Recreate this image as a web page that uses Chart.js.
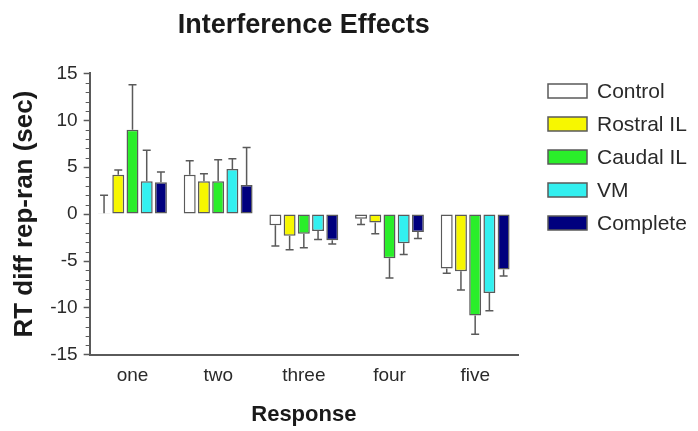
<!DOCTYPE html>
<html>
<head>
<meta charset="utf-8">
<script src="https://cdn.jsdelivr.net/npm/chart.js@4/dist/chart.umd.min.js"></script>
<style>
  body { margin: 0; background: #fff; }
  canvas { display: block; }
</style>
</head>
<body>
<canvas id="chart" width="698" height="431"></canvas>
<script>
const categories = ['one', 'two', 'three', 'four', 'five'];
const seriesNames = ['Control', 'Rostral IL', 'Caudal IL', 'VM', 'Complete'];

const control = [0.1, 4.2, -1.2, -0.5, -5.8];
const controlErr = [1.9, 1.5, 2.2, 0.6, 0.5];
const rostral = [4.2, 3.5, -2.3, -0.9, -6.1];
const rostralErr = [0.5, 0.8, 1.5, 1.2, 2.0];
const caudal = [9.0, 3.5, -2.1, -4.7, -10.8];
const caudalErr = [4.8, 2.3, 1.5, 2.1, 2.0];
const vm = [3.5, 4.8, -1.8, -3.1, -8.4];
const vmErr = [3.3, 1.1, 0.9, 1.2, 1.9];
const complete = [3.4, 3.1, -2.8, -1.9, -5.9];
const completeErr = [1.1, 4.0, 0.4, 0.7, 0.7];

const fills = ['#ffffff', '#f7f700', '#2aee2a', '#33f0f0', '#00007e'];
const lineGray = '#5a5a5a';
const font = 'Liberation Sans, Arial, sans-serif';

function makeSet(i, values, errs) {
    return {
        label: seriesNames[i],
        data: values,
        errors: errs,
        backgroundColor: fills[i],
        borderColor: lineGray,
        borderWidth: 1.5,
        borderSkipped: false,
        barPercentage: 0.84,
        categoryPercentage: 0.83
    };
}

// error bars drawn away from the baseline, like the original plot
const errorBars = {
    id: 'errorBars',
    afterDatasetsDraw(chart) {
        const ctx = chart.ctx;
        const y = chart.scales.y;
        chart.data.datasets.forEach((ds, i) => {
            chart.getDatasetMeta(i).data.forEach((bar, j) => {
                const v = ds.data[j];
                const e = ds.errors[j];
                const end = y.getPixelForValue(v >= 0 ? v + e : v - e);
                ctx.save();
                ctx.strokeStyle = lineGray;
                ctx.lineWidth = 1.5;
                ctx.beginPath();
                ctx.moveTo(bar.x, bar.y);
                ctx.lineTo(bar.x, end);
                ctx.moveTo(bar.x - 4, end);
                ctx.lineTo(bar.x + 4, end);
                ctx.stroke();
                ctx.restore();
            });
        });
    }
};

// minor ticks every 1 unit on the y axis
const minorTicks = {
    id: 'minorTicks',
    afterDraw(chart) {
        const ctx = chart.ctx;
        const y = chart.scales.y;
        const x0 = chart.chartArea.left;
        ctx.save();
        ctx.strokeStyle = lineGray;
        ctx.lineWidth = 1;
        for (let v = y.min; v <= y.max; v++) {
            if (v % 5 === 0) continue;
            const py = Math.round(y.getPixelForValue(v)) + 0.5;
            ctx.beginPath();
            ctx.moveTo(x0 - 4, py);
            ctx.lineTo(x0, py);
            ctx.stroke();
        }
        ctx.restore();
    }
};

// legend at the right, boxes drawn like the bars
const sideLegend = {
    id: 'sideLegend',
    afterDraw(chart) {
        const ctx = chart.ctx;
        const left = chart.chartArea.right + 30;
        ctx.save();
        ctx.font = '21px ' + font;
        ctx.textBaseline = 'middle';
        chart.data.datasets.forEach((ds, i) => {
            const cy = 91 + i * 33;
            ctx.fillStyle = ds.backgroundColor;
            ctx.fillRect(left, cy - 7, 39, 14);
            ctx.strokeStyle = lineGray;
            ctx.lineWidth = 1.5;
            ctx.strokeRect(left, cy - 7, 39, 14);
            ctx.fillStyle = '#2a2a2a';
            ctx.fillText(ds.label, left + 49, cy + 1);
        });
        ctx.restore();
    }
};

new Chart(document.getElementById('chart'), {
    type: 'bar',
    data: {
        labels: categories,
        datasets: [
            makeSet(0, control, controlErr),
            makeSet(1, rostral, rostralErr),
            makeSet(2, caudal, caudalErr),
            makeSet(3, vm, vmErr),
            makeSet(4, complete, completeErr)
        ]
    },
    options: {
        responsive: false,
        animation: false,
        layout: {
            padding: { left: 9, right: 180, top: 0, bottom: 0 }
        },
        plugins: {
            legend: { display: false },
            tooltip: { enabled: false },
            title: {
                display: true,
                fullSize: false,
                text: 'Interference Effects',
                color: '#1a1a1a',
                font: { family: font, size: 27, weight: 'bold' },
                padding: { top: 9, bottom: 32 }
            }
        },
        scales: {
            x: {
                grid: { display: false, drawTicks: false },
                border: { display: true, color: lineGray, width: 2 },
                ticks: {
                    color: '#2a2a2a',
                    padding: 10,
                    font: { family: font, size: 19 }
                },
                title: {
                    display: true,
                    text: 'Response',
                    color: '#1a1a1a',
                    font: { family: font, size: 22, weight: 'bold' },
                    padding: { top: 4, bottom: 3 }
                }
            },
            y: {
                min: -15,
                max: 15,
                grid: { drawOnChartArea: false, tickLength: 6, color: lineGray, tickWidth: 1.5 },
                border: { display: true, color: lineGray, width: 2 },
                ticks: {
                    stepSize: 5,
                    color: '#2a2a2a',
                    padding: 6,
                    font: { family: font, size: 19 }
                },
                title: {
                    display: true,
                    text: 'RT diff rep-ran (sec)',
                    color: '#1a1a1a',
                    font: { family: font, size: 26, weight: 'bold' },
                    padding: { top: 0, bottom: 4 }
                }
            }
        }
    },
    plugins: [errorBars, minorTicks, sideLegend]
});
</script>
</body>
</html>
